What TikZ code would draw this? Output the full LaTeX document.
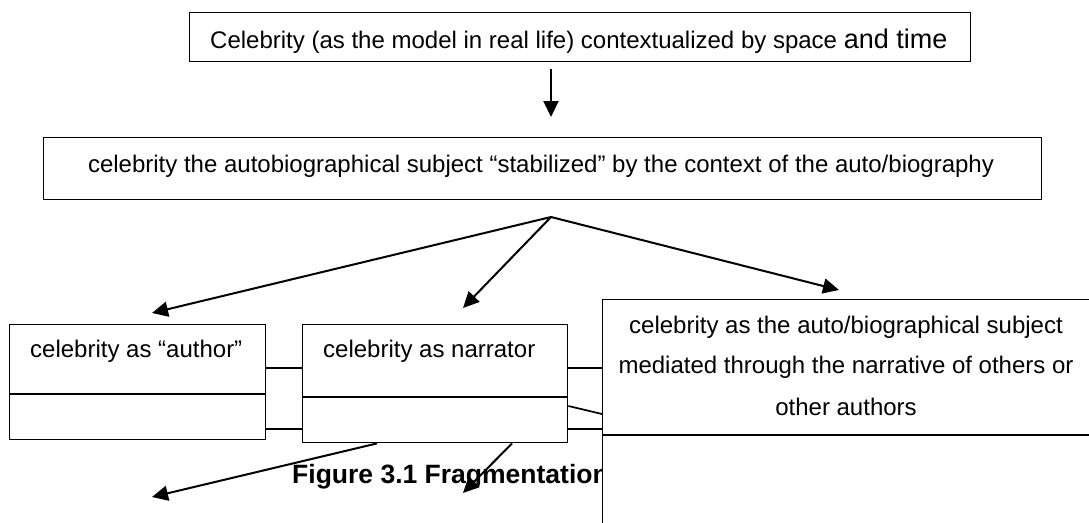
\documentclass[tikz,border=0pt]{standalone}
\usepackage{fontspec}
\setmainfont{Liberation Sans}
\usetikzlibrary{arrows.meta}
\begin{document}
\begin{tikzpicture}[x=1pt,y=-1pt,
  box/.style={draw, line width=1.4pt, fill=white, inner sep=0pt, anchor=north west},
  divline/.style={line width=1.4pt},
  conn/.style={line width=1.7pt},
  arr/.style={line width=2pt, -{Triangle[length=16pt,width=15pt]}},
  txt/.style={inner sep=0pt, font=\fontsize{24}{28}\selectfont},
  captxt/.style={inner sep=0pt, font=\bfseries\fontsize{26.5}{30}\selectfont},
]
\useasboundingbox (0,0) rectangle (1089,522);
\fill[white] (0,0) rectangle (1089,522);
\clip (0,0) rectangle (1089,522);

% top box
\node[box, minimum width=781pt, minimum height=49pt] (top) at (189,12) {};
\node[txt, anchor=base west] (toptext) at (210,48) {Celebrity (as the model in real life) contextualized by space {\fontsize{27}{30}\selectfont and time}};

% second box
\node[box, minimum width=998pt, minimum height=62pt] (mid) at (43,137) {};
\node[txt, anchor=base] (midtext) at (541,172) {celebrity the autobiographical subject “stabilized” by the context of the auto/biography};

% arrow top -> mid
\coordinate (a1) at (551,69);
\coordinate (a2) at (551,117);
\draw[arr] (a1) -- (a2);

% author box
\node[box, minimum width=256pt, minimum height=115pt] (author) at (9,324) {};
\draw[divline] ([yshift=-70pt]author.north west) -- ([yshift=-70pt]author.north east);
\node[txt, anchor=base west] (authortext) at (30,357) {celebrity as “author”};

% narrator box
\node[box, minimum width=265pt, minimum height=118pt] (narr) at (302,324) {};
\draw[divline] ([yshift=-73pt]narr.north west) -- ([yshift=-73pt]narr.north east);
\node[txt, anchor=base west] (narrtext) at (323,357) {celebrity as narrator};

% fan-out arrows
\coordinate (apex) at (551,217);
\coordinate (tipL) at (152,313);
\coordinate (tipM) at (463,308);
\coordinate (tipR) at (839,290);
\draw[arr] (apex) -- (tipL);
\draw[arr] (apex) -- (tipM);
\draw[arr] (apex) -- (tipR);

% caption
\node[captxt, anchor=base west] (caption) at (292,483) {Figure 3.1 Fragmentation};

% lower arrows
\coordinate (tipB1) at (152,497);
\coordinate (tipB2) at (463,493);
\draw[arr] ([xshift=75pt]narr.south west) -- (tipB1);
\draw[arr] ([xshift=210pt]narr.south west) -- (tipB2);

% right box
\node[box, minimum width=490pt, minimum height=261pt] (right) at (602,299) {};
\draw[divline] ([yshift=-136pt]right.north west) -- ([yshift=-136pt]right.north east);
\node[txt, anchor=base] (rt1) at (846,333) {celebrity as the auto/biographical subject};
\node[txt, anchor=base] (rt2) at (846,373) {mediated through the narrative of others or};
\node[txt, anchor=base] (rt3) at (846,415) {other authors};

% connectors between boxes
\draw[conn] ([yshift=-44pt]author.north east) -- ([yshift=-44pt]narr.north west);
\draw[conn] ([yshift=-105pt]author.north east) -- ([yshift=-105pt]narr.north west);
\draw[conn] ([yshift=-44pt]narr.north east) -- ([yshift=-69pt]right.north west);
\draw[conn] ([yshift=-82pt]narr.north east) -- ([yshift=-115pt]right.north west);
\draw[conn] ([yshift=-105pt]narr.north east) -- ([yshift=-130pt]right.north west);
\end{tikzpicture}
\end{document}
